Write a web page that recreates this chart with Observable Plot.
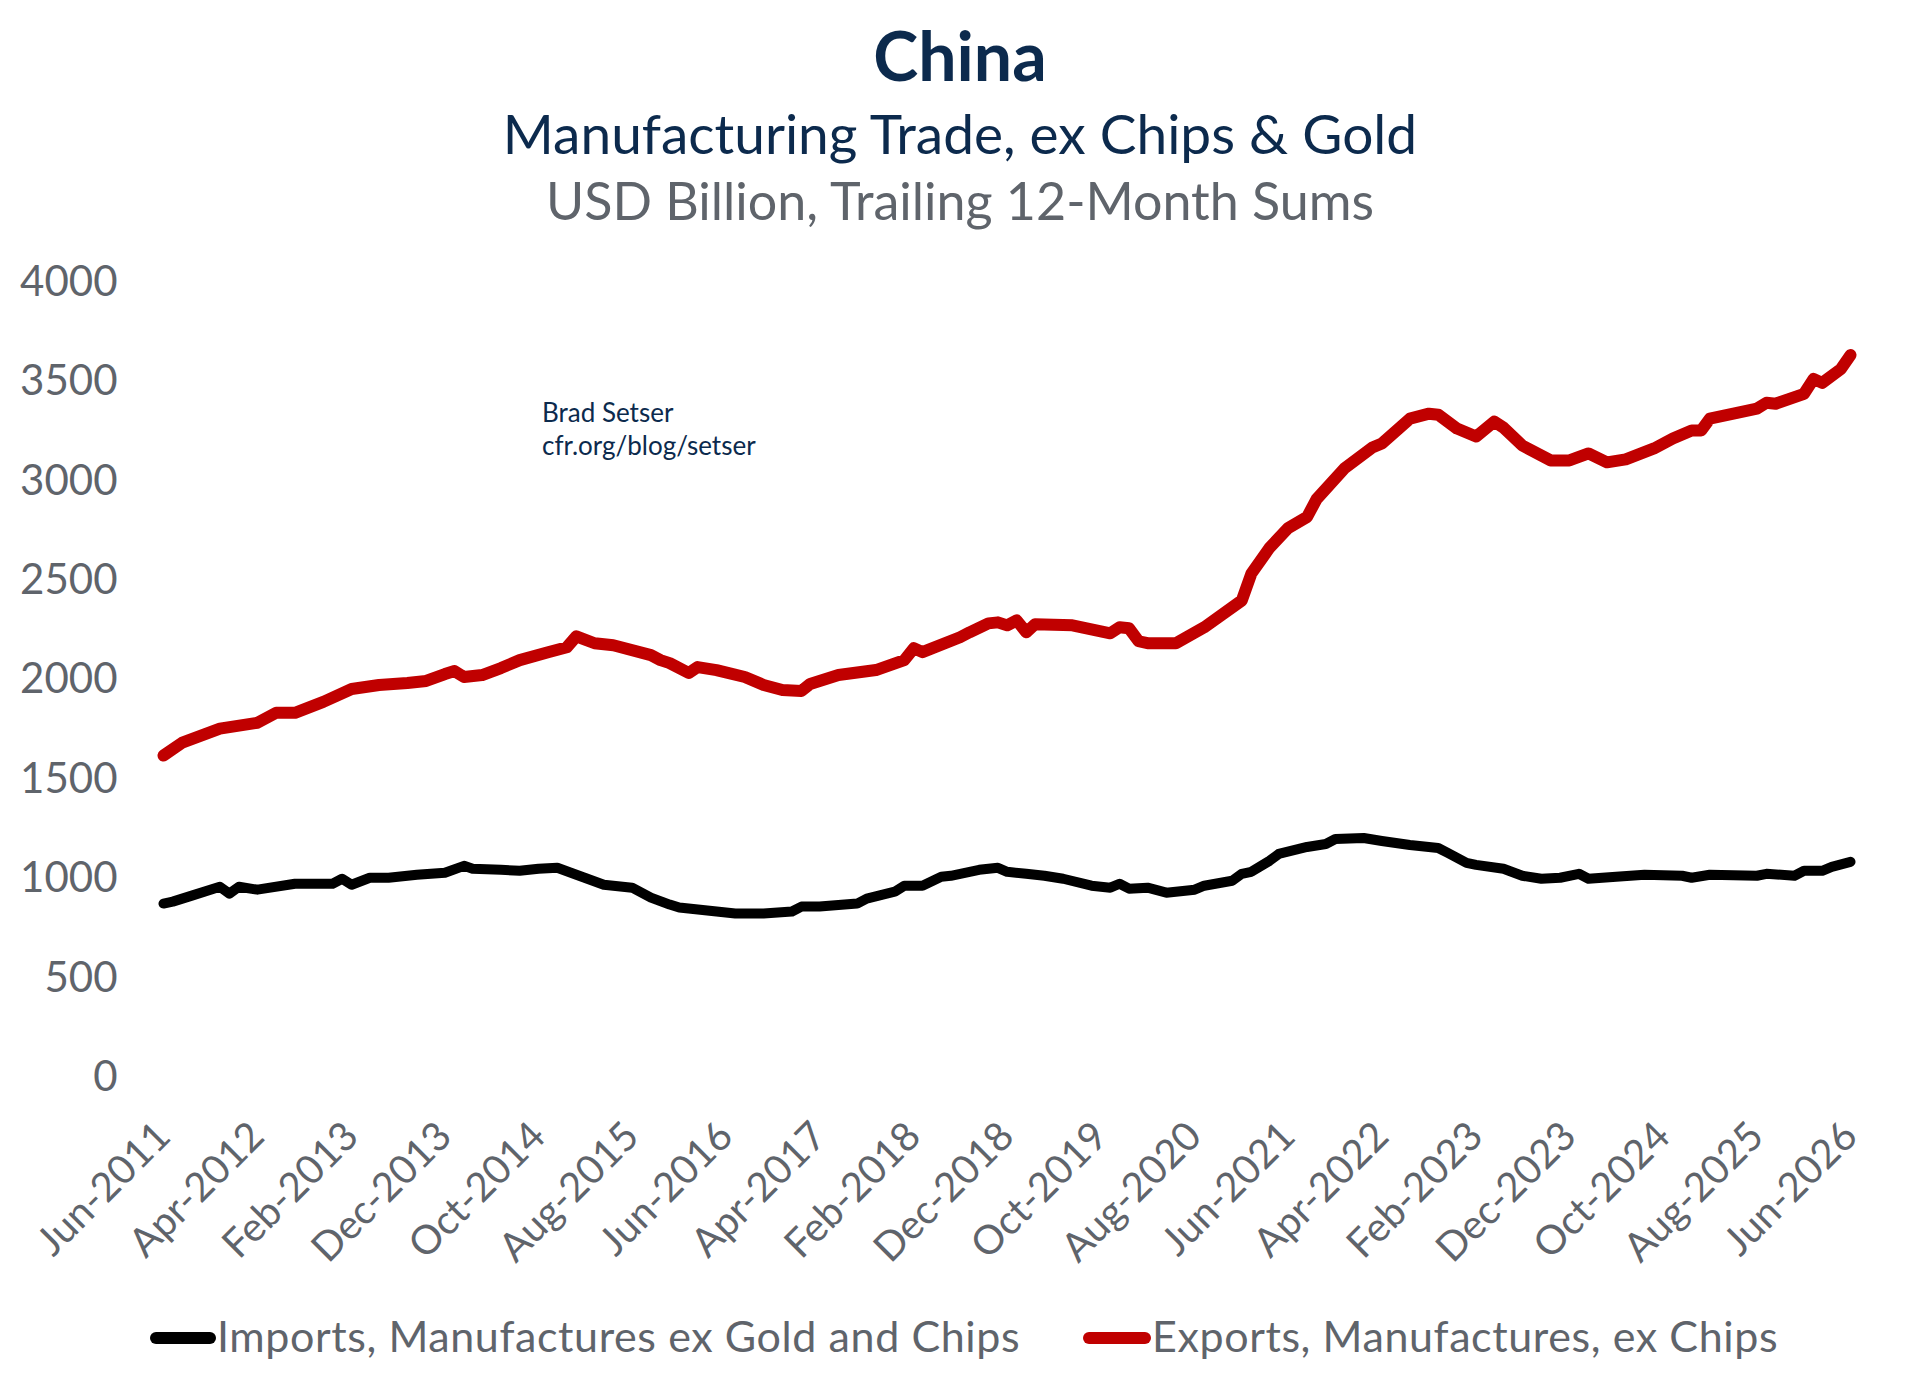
<!DOCTYPE html>
<html>
<head>
<meta charset="utf-8">
<script src="https://cdn.jsdelivr.net/npm/d3@7"></script>
<script src="https://cdn.jsdelivr.net/npm/@observablehq/plot@0.6"></script>
<style>
  body { margin: 0; background: #fff; }
  #wrap { position: relative; width: 1920px; height: 1392px; font-family: Lato, sans-serif; overflow: hidden; }
  .t { position: absolute; left: 0; width: 1920px; text-align: center; line-height: 1; white-space: nowrap; }
  #chart { position: absolute; left: 0; top: 250px; }
  #note { position: absolute; left: 542px; top: 396px; font-size: 26px; line-height: 33px; color: #0c2a4d; }
  .sw { position: absolute; height: 12px; border-radius: 6px; }
  .lg { position: absolute; font-size: 43px; letter-spacing: 0.6px; line-height: 1; color: #5f646b; white-space: nowrap; }
  #chart svg g[aria-label="y-axis tick label"] text { font-size: 42px; }
</style>
</head>
<body>
<div id="wrap">
  <div class="t" style="top:21px;font-size:68px;font-weight:700;color:#0c2a4d;">China</div>
  <div class="t" style="top:106px;font-size:55px;color:#0c2a4d;">Manufacturing Trade, ex Chips &amp; Gold</div>
  <div class="t" style="top:174px;font-size:52px;color:#5f646b;">USD Billion, Trailing 12-Month Sums</div>
  <div id="chart"></div>
  <div id="note">Brad Setser<br>cfr.org/blog/setser</div>
  <div class="sw" style="left:150px;top:1332px;width:66px;background:#000;"></div>
  <div class="lg" style="left:217px;top:1314px;">Imports, Manufactures ex Gold and Chips</div>
  <div class="sw" style="left:1083px;top:1332px;width:68px;background:#c00000;"></div>
  <div class="lg" style="left:1152px;top:1314px;">Exports, Manufactures, ex Chips</div>
</div>
<script>
const tickLabels = ["Jun-2011", "Apr-2012", "Feb-2013", "Dec-2013", "Oct-2014", "Aug-2015",
    "Jun-2016", "Apr-2017", "Feb-2018", "Dec-2018", "Oct-2019", "Aug-2020", "Jun-2021",
    "Apr-2022", "Feb-2023", "Dec-2023", "Oct-2024", "Aug-2025", "Jun-2026"];
const yTicks = [0, 500, 1000, 1500, 2000, 2500, 3000, 3500, 4000];

// exports, manufactures ex chips (trailing 12m, USD bn)
const exportDates = ["2011-06", "2011-08", "2011-12", "2012-04", "2012-06", "2012-08", "2012-11",
    "2013-02", "2013-05", "2013-08", "2013-10", "2013-12", "2014-01", "2014-02", "2014-04",
    "2014-06", "2014-08", "2014-11", "2015-01", "2015-02", "2015-04", "2015-06", "2015-10",
    "2015-11", "2015-12", "2016-02", "2016-03", "2016-05", "2016-08", "2016-10", "2016-12",
    "2017-02", "2017-03", "2017-06", "2017-10", "2018-01", "2018-02", "2018-03", "2018-07",
    "2018-08", "2018-10", "2018-11", "2018-12", "2019-01", "2019-02", "2019-03", "2019-07",
    "2019-11", "2019-12", "2020-01", "2020-02", "2020-03", "2020-06", "2020-09", "2021-01",
    "2021-02", "2021-04", "2021-06", "2021-08", "2021-09", "2021-12", "2022-03", "2022-04",
    "2022-07", "2022-09", "2022-10", "2022-12", "2023-02", "2023-04", "2023-05", "2023-07",
    "2023-10", "2023-12", "2024-02", "2024-04", "2024-06", "2024-09", "2024-11", "2025-01",
    "2025-02", "2025-03", "2025-06", "2025-08", "2025-09", "2025-10", "2026-01", "2026-02",
    "2026-03", "2026-05", "2026-06"];
const exportValues = [1620, 1685, 1755, 1785, 1835, 1835, 1890,
    1955, 1975, 1985, 1995, 2030, 2045, 2015, 2025,
    2060, 2100, 2140, 2165, 2220, 2185, 2175, 2125,
    2100, 2085, 2035, 2065, 2050, 2015, 1975, 1950,
    1945, 1980, 2025, 2050, 2100, 2160, 2140, 2215,
    2240, 2285, 2290, 2275, 2300, 2240, 2280, 2275,
    2235, 2265, 2260, 2195, 2185, 2185, 2265, 2400,
    2535, 2665, 2765, 2820, 2910, 3065, 3170, 3190,
    3315, 3340, 3335, 3265, 3225, 3300, 3270, 3180,
    3105, 3105, 3140, 3095, 3110, 3165, 3215, 3255,
    3255, 3315, 3345, 3365, 3395, 3390, 3440, 3515,
    3495, 3565, 3635];

// imports, manufactures ex gold and chips
const importDates = ["2011-06", "2011-07", "2011-09", "2011-12", "2012-01", "2012-02", "2012-04",
    "2012-08", "2012-12", "2013-01", "2013-02", "2013-04", "2013-06", "2013-09", "2013-12",
    "2014-02", "2014-03", "2014-06", "2014-08", "2014-10", "2014-12", "2015-02", "2015-05",
    "2015-08", "2015-10", "2015-12", "2016-01", "2016-04", "2016-07", "2016-10", "2017-01",
    "2017-02", "2017-04", "2017-08", "2017-09", "2017-12", "2018-01", "2018-03", "2018-05",
    "2018-06", "2018-09", "2018-11", "2018-12", "2019-02", "2019-04", "2019-06", "2019-09",
    "2019-11", "2019-12", "2020-01", "2020-03", "2020-05", "2020-08", "2020-09", "2020-12",
    "2021-01", "2021-02", "2021-04", "2021-05", "2021-08", "2021-10", "2021-11", "2022-02",
    "2022-04", "2022-07", "2022-08", "2022-10", "2022-11", "2023-01", "2023-02", "2023-05",
    "2023-07", "2023-09", "2023-11", "2024-01", "2024-02", "2024-05", "2024-08", "2024-12",
    "2025-01", "2025-03", "2025-08", "2025-09", "2025-12", "2026-01", "2026-03", "2026-04",
    "2026-06"];
const importValues = [875, 885, 915, 960, 925, 960, 945,
    975, 975, 1000, 970, 1005, 1005, 1020, 1030,
    1065, 1050, 1045, 1040, 1050, 1055, 1020, 970,
    955, 905, 870, 855, 840, 825, 825, 835,
    860, 860, 875, 900, 935, 965, 965, 1010,
    1015, 1045, 1055, 1035, 1025, 1015, 1000, 965,
    955, 975, 950, 955, 930, 945, 965, 990,
    1025, 1035, 1090, 1125, 1160, 1175, 1200, 1205,
    1190, 1170, 1165, 1155, 1130, 1080, 1070, 1050,
    1015, 1000, 1005, 1025, 1000, 1010, 1020, 1015,
    1005, 1020, 1015, 1025, 1015, 1040, 1040, 1060,
    1085];

const parseMonth = d3.utcParse("%Y-%m");
const parseTick = d3.utcParse("%b-%Y");

const exportsData = exportDates.map((d, i) => ({ date: parseMonth(d), value: exportValues[i] }));
const importsData = importDates.map((d, i) => ({ date: parseMonth(d), value: importValues[i] }));
const tickDates = tickLabels.map(parseTick);

const chart = Plot.plot({
    width: 1920,
    height: 1040,
    marginTop: 32,
    marginBottom: 213,
    marginLeft: 163,
    marginRight: 70,
    style: { fontFamily: "Lato, sans-serif", fontSize: "40px", color: "#5f646b", background: "transparent" },
    x: {
        type: "utc",
        domain: [tickDates[0], tickDates[tickDates.length - 1]],
        ticks: tickDates,
        tickFormat: d3.utcFormat("%b-%Y"),
        tickRotate: -45,
        tickSize: 0,
        tickPadding: 52,
        label: null,
    },
    y: {
        domain: [0, 4000],
        ticks: yTicks,
        tickFormat: (d) => String(d),
        tickSize: 0,
        tickPadding: 46,
        label: null,
    },
    marks: [
        Plot.line(importsData, {
            x: "date",
            y: "value",
            stroke: "#000",
            strokeWidth: 10,
            strokeLinejoin: "round",
            strokeLinecap: "round",
        }),
        Plot.line(exportsData, {
            x: "date",
            y: "value",
            stroke: "#c00000",
            strokeWidth: 12,
            strokeLinejoin: "round",
            strokeLinecap: "round",
        }),
    ],
});
document.querySelector("#chart").append(chart);
</script>
</body>
</html>
